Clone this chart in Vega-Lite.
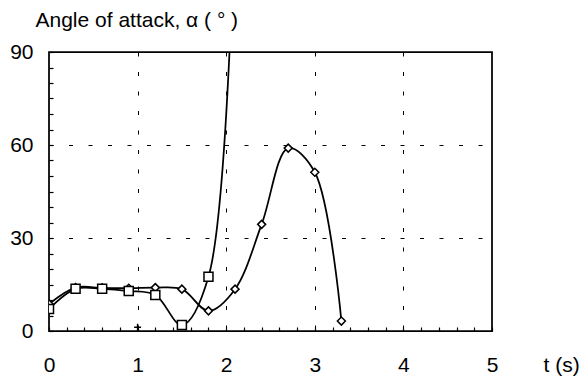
{
  "$schema": "https://vega.github.io/schema/vega-lite/v6.json",
  "width": 443,
  "height": 279,
  "autosize": {"type": "none"},
  "padding": {"left": 49, "top": 52, "right": 91, "bottom": 46},
  "background": "white",
  "config": {
    "view": {"stroke": "black", "strokeWidth": 1.75},
    "font": "Liberation Sans"
  },
  "datasets": {
    "squares": [
      {"t": 0, "alpha": 7.1},
      {"t": 0.3, "alpha": 13.6},
      {"t": 0.6, "alpha": 13.6},
      {"t": 0.9, "alpha": 12.9},
      {"t": 1.2, "alpha": 11.6},
      {"t": 1.5, "alpha": 1.9},
      {"t": 1.8, "alpha": 17.5},
      {"t": 2.1, "alpha": 140}
    ],
    "diamonds": [
      {"t": 0, "alpha": 8.7},
      {"t": 0.3, "alpha": 14.0},
      {"t": 0.6, "alpha": 13.9},
      {"t": 0.9, "alpha": 13.8},
      {"t": 1.2, "alpha": 14.0},
      {"t": 1.5, "alpha": 13.5},
      {"t": 1.8, "alpha": 6.5},
      {"t": 2.1, "alpha": 13.5},
      {"t": 2.4, "alpha": 34.4},
      {"t": 2.7, "alpha": 59.0},
      {"t": 3.0, "alpha": 51.2},
      {"t": 3.3, "alpha": 3.2}
    ],
    "plus": [
      {"t": 1.0, "alpha": 1.2}
    ]
  },
  "encoding": {
    "x": {
      "field": "t",
      "type": "quantitative",
      "scale": {"domain": [0, 5], "nice": false, "zero": false},
      "axis": {
        "values": [0, 0.2, 0.4, 0.6, 0.8, 1, 1.2, 1.4, 1.6, 1.8, 2, 2.2, 2.4, 2.6, 2.8, 3, 3.2, 3.4, 3.6, 3.8, 4, 4.2, 4.4, 4.6, 4.8, 5],
        "offset": -4,
        "domain": false,
        "tickSize": 4,
        "tickColor": "black",
        "tickWidth": 1.2,
        "labelExpr": "datum.value % 1 === 0 ? '' + datum.value : ''",
        "labelFontSize": 21,
        "labelColor": "black",
        "labelPadding": 40,
        "labelBaseline": "alphabetic",
        "labelFlush": false,
        "labelOverlap": false,
        "labelBound": false,
        "grid": true,
        "gridColor": "black",
        "gridWidth": 1,
        "gridDash": [4, 15.5],
        "gridOpacity": {"condition": {"test": "datum.value % 1 === 0 && datum.value > 0 && datum.value < 5", "value": 1}, "value": 0},
        "title": "t (s)",
        "titleFontSize": 21,
        "titleFontWeight": "normal",
        "titleColor": "black",
        "titleAngle": 0,
        "titleAlign": "left",
        "titleBaseline": "alphabetic",
        "titleX": 494,
        "titleY": 44
      }
    },
    "y": {
      "field": "alpha",
      "type": "quantitative",
      "scale": {"domain": [0, 90], "nice": false},
      "axis": {
        "values": [0, 5, 10, 15, 20, 25, 30, 35, 40, 45, 50, 55, 60, 65, 70, 75, 80, 85, 90],
        "offset": -4,
        "domain": false,
        "tickSize": 4,
        "tickColor": "black",
        "tickWidth": 1.2,
        "labelExpr": "datum.value % 30 === 0 ? '' + datum.value : ''",
        "labelFontSize": 21,
        "labelColor": "black",
        "labelPadding": 16,
        "labelBaseline": "middle",
        "labelAlign": "right",
        "labelFlush": false,
        "labelOverlap": false,
        "labelBound": false,
        "grid": true,
        "gridColor": "black",
        "gridWidth": 1,
        "gridDash": [4, 15.5],
        "gridOpacity": {"condition": {"test": "datum.value % 30 === 0 && datum.value > 0 && datum.value < 90", "value": 1}, "value": 0},
        "title": "Angle of attack, α ( ° )",
        "titleFontSize": 21,
        "titleFontWeight": "normal",
        "titleColor": "black",
        "titleAngle": 0,
        "titleAlign": "left",
        "titleBaseline": "alphabetic",
        "titleX": -18,
        "titleY": -26
      }
    }
  },
  "layer": [
    {
      "data": {"name": "diamonds"},
      "mark": {"type": "line", "interpolate": "catmull-rom", "color": "black", "strokeWidth": 1.75, "clip": true}
    },
    {
      "data": {"name": "squares"},
      "mark": {"type": "line", "interpolate": "catmull-rom", "color": "black", "strokeWidth": 1.75, "clip": true}
    },
    {
      "data": {"name": "diamonds"},
      "mark": {"type": "point", "shape": "diamond", "size": 64, "filled": true, "fill": "white", "stroke": "black", "strokeWidth": 1.5, "opacity": 1, "clip": true}
    },
    {
      "data": {"name": "squares"},
      "mark": {"type": "point", "shape": "square", "size": 81, "filled": true, "fill": "white", "stroke": "black", "strokeWidth": 1.5, "opacity": 1, "clip": true}
    },
    {
      "data": {"name": "plus"},
      "mark": {"type": "point", "shape": "M-1,0L1,0M0,-1L0,1", "size": 49, "filled": false, "stroke": "black", "strokeWidth": 1.5, "opacity": 1, "clip": true}
    }
  ]
}
